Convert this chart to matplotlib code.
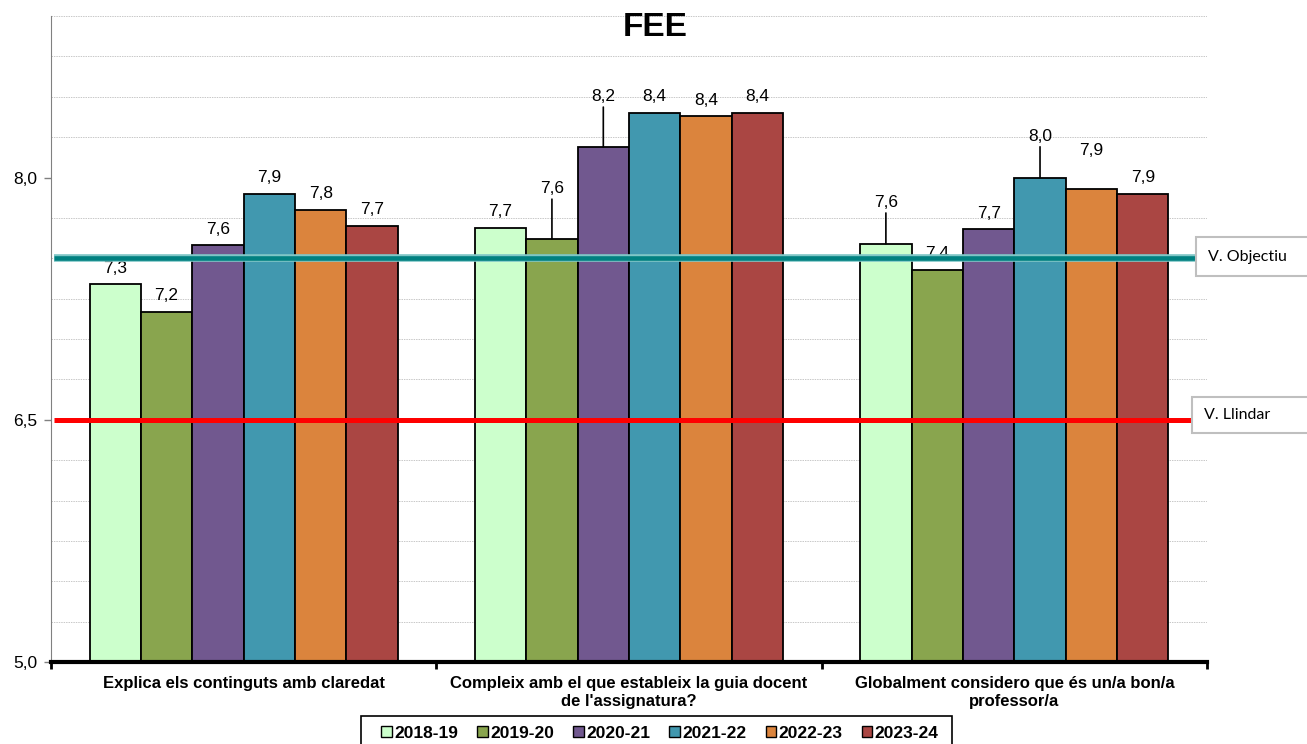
import numpy as np
import matplotlib.pyplot as plt
from matplotlib.patches import Patch, Rectangle
from matplotlib.ticker import FixedLocator, FuncFormatter

# data
questions = [
    "Explica els continguts amb claredat",
    "Compleix amb el que estableix la guia docent\nde l'assignatura?",
    "Globalment considero que és un/a bon/a\nprofessor/a",
]
years = ["2018-19", "2019-20", "2020-21", "2021-22", "2022-23", "2023-24"]
v_2018_19 = [7.34, 7.69, 7.59]
v_2019_20 = [7.17, 7.62, 7.43]
v_2020_21 = [7.58, 8.19, 7.68]
v_2021_22 = [7.90, 8.40, 8.00]
v_2022_23 = [7.80, 8.38, 7.93]
v_2023_24 = [7.70, 8.40, 7.90]
objectiu = 7.5
llindar = 6.5

series = [v_2018_19, v_2019_20, v_2020_21, v_2021_22, v_2022_23, v_2023_24]
colors = ["#CCFFCC", "#89A54E", "#71588F", "#4198AF", "#DB843D", "#AA4643"]

# label placement tweaks (px above bar top, leader line?) keyed by (question, year)
lift = {(1, 1): (50, True), (1, 2): (50, True), (2, 0): (41, True),
        (2, 3): (41, True), (2, 4): (38, False)}

plt.rcParams["font.family"] = ["Liberation Sans", "DejaVu Sans"]

W, H = 1307, 744
fig = plt.figure(figsize=(W / 100, H / 100), dpi=100)
ax = fig.add_axes([51 / W, 1 - 662 / H, (1207 - 51) / W, (662 - 16) / H])

x = np.arange(len(questions))
bw = 0.8 / len(years)
for j, (vals, c) in enumerate(zip(series, colors)):
    xs = x - 0.4 + bw * (j + 0.5)
    ax.bar(xs, np.array(vals) - 5, bottom=5, width=bw, color=c,
           edgecolor="black", linewidth=1.3, zorder=2)
    for i, v in enumerate(vals):
        up, leader = lift.get((i, j), (16, False))
        ax.annotate(f"{v:.1f}".replace(".", ","), xy=(xs[i], v),
                    xytext=(0, up * 0.72), textcoords="offset points",
                    ha="center", va="center", fontsize=12.5, zorder=3,
                    arrowprops=dict(arrowstyle="-", color="black", lw=1.2,
                                    shrinkA=0, shrinkB=0) if leader else None)

# target / threshold lines
ax.axhline(objectiu, xmin=0.003, xmax=0.9896, color="#7FC6C6", lw=5.5,
           zorder=4, clip_on=False, solid_capstyle="butt")
ax.axhline(objectiu, xmin=0.003, xmax=0.9896, color="#008080", lw=3.3,
           zorder=4, clip_on=False, solid_capstyle="butt")
ax.axhline(llindar, xmin=0.003, xmax=0.987, color="#FF0000", lw=3.6,
           zorder=4, clip_on=False, solid_capstyle="butt")

for (y0, y1, x0, txt) in [(237, 276, 1196, "V. Objectiu"), (397, 433, 1192, "V. Llindar")]:
    fig.patches.append(Rectangle((x0 / W, 1 - y1 / H), (W - x0 + 5) / W, (y1 - y0) / H,
                                 transform=fig.transFigure, facecolor="white",
                                 edgecolor="#BFBFBF", lw=1.5, zorder=5))
    fig.text((x0 + 12) / W, 1 - (y0 + y1) / 2 / H, txt, fontsize=11.5,
             family=["Lato", "DejaVu Sans"], va="center", ha="left", zorder=6)

ax.set_xlim(-0.5, 2.5)
ax.set_ylim(5, 9)
ax.yaxis.set_major_locator(FixedLocator([5, 6.5, 8]))
ax.yaxis.set_minor_locator(FixedLocator(np.arange(5, 9.01, 0.25)))
ax.yaxis.set_major_formatter(FuncFormatter(lambda v, p: f"{v:.1f}".replace(".", ",")))
ax.grid(axis="y", which="minor", color="#C8C8C8", linestyle=(0, (1.5, 1)), lw=0.7, zorder=0)
ax.tick_params(axis="y", which="major", length=5, width=1, color="#808080",
               labelsize=12.5, pad=5)
ax.tick_params(axis="y", which="minor", length=0)

ax.set_xticks(x)
ax.set_xticklabels(questions, fontweight="bold", fontsize=12, linespacing=1.3)
ax.xaxis.set_minor_locator(FixedLocator([-0.5, 0.5, 1.5, 2.5]))
ax.tick_params(axis="x", which="major", length=0, pad=10)
ax.tick_params(axis="x", which="minor", length=5, width=2, color="black")

ax.spines["top"].set_visible(False)
ax.spines["right"].set_visible(False)
ax.spines["left"].set_color("#808080")
ax.spines["bottom"].set_linewidth(3)
ax.spines["bottom"].set_color("black")

fig.text(655 / W, 1 - 28 / H, "FEE", fontsize=24, fontweight="bold",
         ha="center", va="center")

# legend with a hand-placed frame running off the bottom edge
handles = [Patch(facecolor=c, edgecolor="black", lw=1) for c in colors]
fig.legend(handles, years, loc="center", bbox_to_anchor=(660 / W, 1 - 733 / H),
           ncol=6, frameon=False, handlelength=0.6, handleheight=0.6,
           handletextpad=0.15, columnspacing=1.1, borderaxespad=0,
           prop={"weight": "bold", "size": 12.5})
fig.patches.append(Rectangle((361 / W, -0.01), (952 - 361) / W, 0.01 + 28 / H,
                             transform=fig.transFigure, facecolor="none",
                             edgecolor="black", lw=1.2))

fig.savefig("out.png", dpi=100)
